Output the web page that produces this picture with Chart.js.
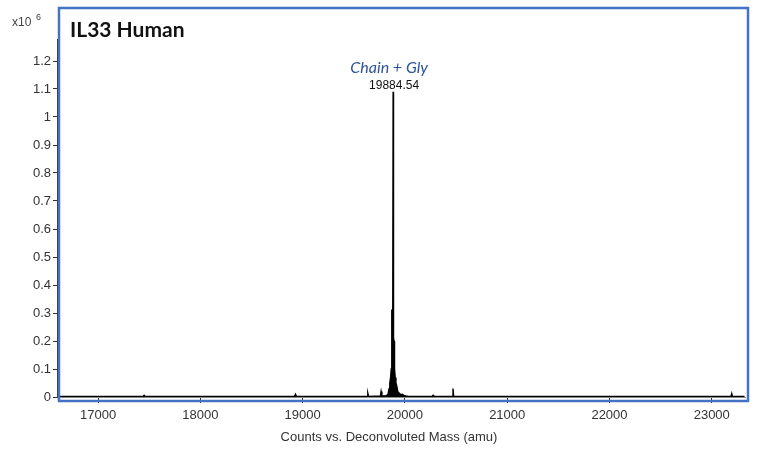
<!DOCTYPE html>
<html>
<head>
<meta charset="utf-8">
<script src="https://cdn.jsdelivr.net/npm/chart.js@4"></script>
<style>
  html, body { margin: 0; padding: 0; background: #fff; }
  #wrap { width: 768px; height: 449px; }
</style>
</head>
<body>
<div id="wrap"><canvas id="chart"></canvas></div>
<script>
// spectrum, intensity in x10^6 counts
const mass = [16610, 16800, 17000, 17200, 17440, 17450, 17460, 17700, 18000, 18300, 18500, 18700,
  18920, 18930, 18940, 19200, 19500, 19630, 19637, 19645, 19700, 19760, 19767, 19775, 19820,
  19835, 19845, 19852, 19860, 19866, 19870, 19873, 19877, 19880, 19882, 19884.54, 19887, 19890,
  19894, 19897, 19900, 19905, 19912, 19920, 19930, 19940, 19950, 19960, 19975, 19990, 20010,
  20030, 20060, 20100, 20268, 20275, 20282, 20400, 20463, 20470, 20477, 20600, 21000, 21500,
  22000, 22500, 23000, 23188, 23195, 23202, 23320];
const intensity = [0.002, 0.002, 0.002, 0.002, 0.002, 0.006, 0.002, 0.002, 0.002, 0.002, 0.002, 0.002,
  0.002, 0.01, 0.002, 0.002, 0.002, 0.002, 0.014, 0.002, 0.003, 0.004, 0.02, 0.004, 0.005,
  0.01, 0.03, 0.05, 0.07, 0.1, 0.22, 0.31, 0.31, 0.25, 0.3, 1.09, 0.3, 0.21,
  0.2, 0.2, 0.1, 0.07, 0.05, 0.04, 0.02, 0.015, 0.012, 0.008, 0.01, 0.006, 0.004,
  0.003, 0.002, 0.002, 0.002, 0.006, 0.002, 0.002, 0.002, 0.03, 0.002, 0.002, 0.002, 0.002,
  0.002, 0.002, 0.002, 0.002, 0.012, 0.002, 0.002];
const xTicks = [17000, 18000, 19000, 20000, 21000, 22000, 23000];
const yTicks = [0, 0.1, 0.2, 0.3, 0.4, 0.5, 0.6, 0.7, 0.8, 0.9, 1, 1.1, 1.2];
const peakMass = 19884.54;
const peakHeight = 1.09;
const peakName = 'Chain + Gly';
const chartTitle = 'IL33 Human';
const xTitle = 'Counts vs. Deconvoluted Mass (amu)';

const points = mass.map((m, i) => ({ x: m, y: intensity[i] }));

// blue frame, titles, scale factor and peak label
const decor = {
  id: 'decor',
  afterDraw(c) {
    const ctx = c.ctx;
    const xs = c.scales.x, ys = c.scales.y;
    ctx.save();
    ctx.strokeStyle = '#4472C4';
    ctx.lineWidth = 2.5;
    ctx.strokeRect(59, 8, 689, 393);

    ctx.fillStyle = '#111';
    ctx.font = 'bold 21px Lato';
    ctx.textBaseline = 'middle';
    ctx.textAlign = 'left';
    ctx.fillText(chartTitle, 70, 30);

    ctx.fillStyle = '#444';
    ctx.font = '12px "Liberation Sans"';
    ctx.fillText('x10', 12, 23);
    ctx.font = '9px "Liberation Sans"';
    ctx.fillText('6', 36, 18);

    ctx.textAlign = 'center';
    ctx.fillStyle = '#333';
    ctx.font = '13px "Liberation Sans"';
    ctx.fillText(xTitle, 389, 437);

    const px = xs.getPixelForValue(peakMass);
    const py = ys.getPixelForValue(peakHeight);
    ctx.textBaseline = 'alphabetic';
    ctx.fillStyle = '#111';
    ctx.font = '12px "Liberation Sans"';
    ctx.fillText(peakMass.toFixed(2), px + 1, py - 3);
    ctx.fillStyle = '#2F5597';
    ctx.font = 'italic 16px Lato';
    ctx.fillText(peakName, px - 4, py - 19);
    ctx.restore();
  }
};

new Chart(document.getElementById('chart'), {
  type: 'scatter',
  data: {
    datasets: [{
      data: points,
      showLine: true,
      borderColor: '#000',
      backgroundColor: '#000',
      borderWidth: 1.4,
      pointRadius: 0,
      fill: 'origin',
      tension: 0
    }]
  },
  options: {
    responsive: true,
    maintainAspectRatio: false,
    animation: false,
    layout: { padding: { top: 40, right: 23, left: 0, bottom: 0 } },
    plugins: { legend: { display: false }, tooltip: { enabled: false } },
    scales: {
      x: {
        type: 'linear',
        min: 16608,
        max: 23325,
        afterFit: s => { s.height = 52; },
        afterBuildTicks: s => { s.ticks = xTicks.map(v => ({ value: v })); },
        ticks: {
          autoSkip: false,
          color: '#333',
          font: { family: 'Liberation Sans', size: 13 },
          padding: 5,
          maxRotation: 0,
          callback: v => String(v)
        },
        grid: { drawOnChartArea: false, drawTicks: true, tickLength: 6, color: '#333' },
        border: { color: '#888' }
      },
      y: {
        min: 0,
        max: 1.275,
        afterFit: s => { s.width = 58; },
        afterBuildTicks: s => { s.ticks = yTicks.map(v => ({ value: v })); },
        ticks: {
          autoSkip: false,
          color: '#333',
          font: { family: 'Liberation Sans', size: 13 },
          padding: 2,
          callback: v => String(+v.toFixed(1))
        },
        grid: { drawOnChartArea: false, drawTicks: true, tickLength: 5, color: '#333' },
        border: { color: '#333', width: 1.5 }
      }
    }
  },
  plugins: [decor]
});
</script>
</body>
</html>
